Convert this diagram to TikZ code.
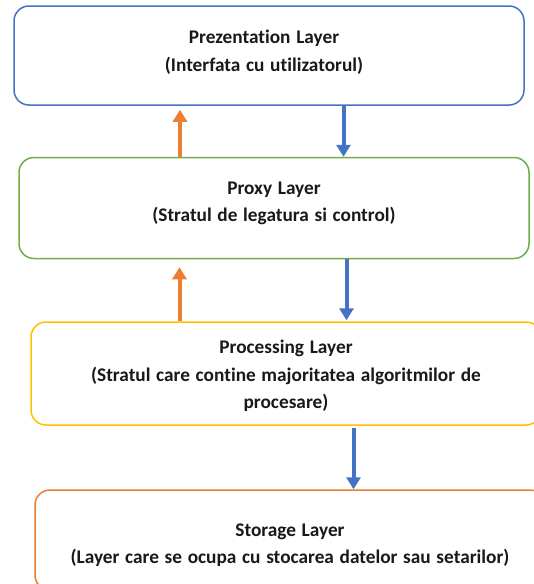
\documentclass[tikz,border=0pt]{standalone}
\usepackage{fontspec}
\setmainfont[Ligatures=NoCommon, WordSpace=1.3]{Carlito}
\usetikzlibrary{arrows.meta}
\definecolor{layblue}{HTML}{4472C4}
\definecolor{laygreen}{HTML}{70AD47}
\definecolor{layyellow}{HTML}{FFC000}
\definecolor{layorange}{HTML}{ED7D31}
\tikzset{
  layerbox/.style={draw, line width=1.5pt, rounded corners=15pt, fill=white,
    minimum width=510pt, inner sep=0pt},
  layertext/.style={align=center, font=\fontsize{19.3}{27.5}\selectfont\bfseries, text=black!90},
  flow/.style={line width=4pt, -{Triangle[length=12pt,width=14pt]}},
  upflow/.style={flow, draw=layorange, fill=layorange},
  downflow/.style={flow, draw=layblue, fill=layblue},
}
\begin{document}
\begin{tikzpicture}[x=1pt, y=-1pt]
  \useasboundingbox (0,0) rectangle (534,584);
  \clip (0,0) rectangle (534,584);

  % layer boxes
  \node[layerbox, draw=layblue, minimum height=99pt] (pres) at (269,55.5) {};
  \node[layerbox, draw=laygreen, minimum height=101pt] (proxy) at (274,208) {};
  \node[layerbox, draw=layyellow, minimum height=103pt] (proc) at (286,373.5) {};
  \node[layerbox, draw=layorange, minimum height=100pt] (stor) at (290,540) {};

  % layer descriptions
  \node[layertext] (prest) at (264,52) {Prezentation Layer\\(Interfata cu utilizatorul)};
  \node[layertext] (proxyt) at (274,203.5) {Proxy Layer\\(Stratul de legatura si control)};
  \node[layertext] (proct) at (286,376) {Processing Layer\\(Stratul care contine majoritatea algoritmilor de\\procesare)};
  \node[layertext] (stort) at (290,545) {Storage Layer\\(Layer care se ocupa cu stocarea datelor sau setarilor)};

  % arrow columns
  \coordinate (ua) at (180,0);
  \coordinate (da) at (343.5,0);
  \coordinate (ub) at (179.5,0);
  \coordinate (db) at (346.5,0);
  \coordinate (dc) at (353.5,0);

  % response flow (up) and request flow (down)
  \draw[upflow, shorten >=4pt] (ua |- proxy.north) -- (ua |- pres.south);
  \draw[downflow] (da |- pres.south) -- (da |- proxy.north);
  \draw[upflow, shorten >=8pt] (ub |- proc.north) -- (ub |- proxy.south);
  \draw[downflow, shorten >=1pt] (db |- proxy.south) -- (db |- proc.north);
  \draw[downflow, shorten <=2pt] (dc |- proc.south) -- (dc |- stor.north);
\end{tikzpicture}
\end{document}
